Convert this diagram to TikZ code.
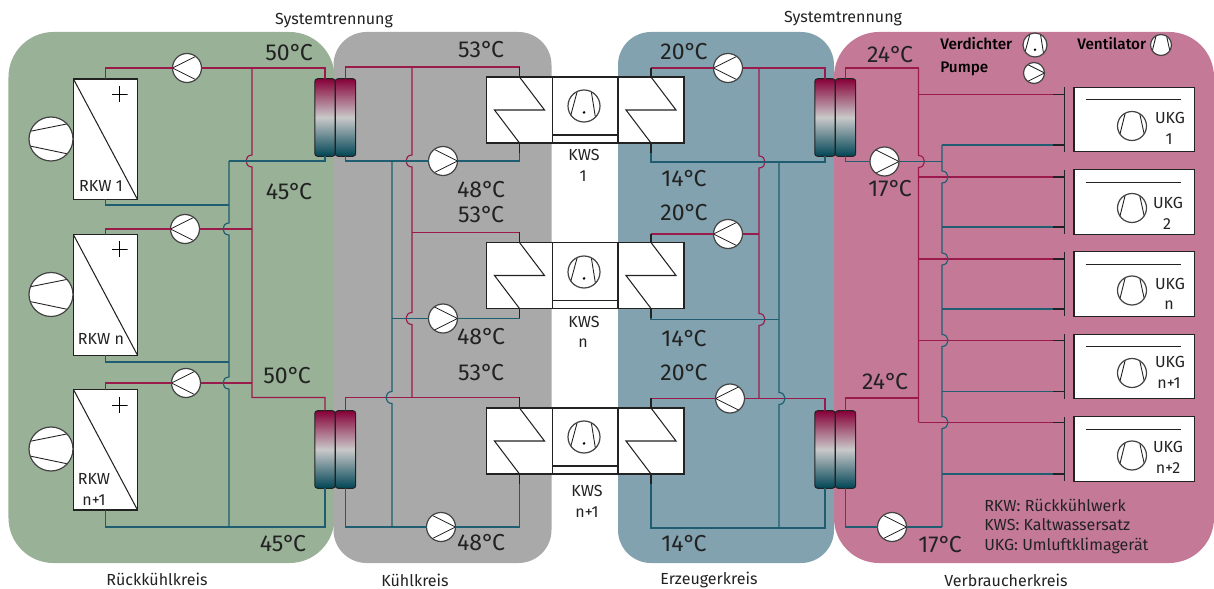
\documentclass[tikz,border=0pt]{standalone}
\usepackage{fontspec}
\setmainfont{Fira Sans}
\newfontface\medfont{Fira Sans Medium}
\usepackage{xcolor}
\usepackage{tikz}
\usetikzlibrary{calc}
\definecolor{zonegreen}{HTML}{98B197}
\definecolor{zonegray}{HTML}{A9A9A9}
\definecolor{zoneblue}{HTML}{81A2AE}
\definecolor{zonepink}{HTML}{C47A96}
\definecolor{pipehot}{HTML}{9A1B4B}
\definecolor{pipecold}{HTML}{1E5E70}
\definecolor{hxtop}{HTML}{860038}
\definecolor{hxmid}{HTML}{C9C9C9}
\definecolor{hxbot}{HTML}{004555}
\definecolor{inkdark}{HTML}{222222}
\tikzset{
  % --- circuit areas ---------------------------------------------------------
  zone/.style={rectangle,inner sep=0pt,outer sep=0pt,rounded corners=11.25mm},
  zonesmall/.style={zone,rounded corners=8.25mm},
  % --- pipes -----------------------------------------------------------------
  hot/.style={pipehot,line width=0.28mm},
  cold/.style={pipecold,line width=0.28mm},
  stub/.style={inkdark,line width=0.26mm},
  % --- units -----------------------------------------------------------------
  unit/.style={rectangle,draw=inkdark,fill=white,line width=0.28mm,inner sep=0pt,
               outer sep=0pt},
  rkw/.style={unit,minimum width=16mm,minimum height=30.1mm,
    path picture={\draw[stub] (path picture bounding box.north west) --
      (path picture bounding box.south east);}},
  kws/.style={unit,minimum width=16.5mm,minimum height=16.5mm},
  ukg/.style={unit,minimum width=30.1mm,minimum height=16.1mm},
  hx/.style={rectangle,draw=inkdark,line width=0.25mm,inner sep=0pt,outer sep=0pt,
             rounded corners=0.7mm,minimum width=5.1mm,minimum height=19.4mm,
             top color=hxtop,bottom color=hxbot,middle color=hxmid},
  plusmark/.style={rectangle,inner sep=0pt,minimum size=4mm,
    path picture={\draw[black,line width=0.2mm]
      (path picture bounding box.north) -- (path picture bounding box.south)
      (path picture bounding box.west) -- (path picture bounding box.east);}},
  % --- rotating machines -----------------------------------------------------
  round/.style={circle,draw=inkdark!85,fill=white,line width=0.3mm,inner sep=0pt,
                outer sep=0pt,minimum size=7.25mm},
  pumpl/.style={round,path picture={\draw[stub,line width=0.22mm]
      (path picture bounding box.west) -- (path picture bounding box.north east)
      (path picture bounding box.west) -- (path picture bounding box.south east);}},
  pumpr/.style={round,path picture={\draw[stub,line width=0.22mm]
      (path picture bounding box.east) -- (path picture bounding box.north west)
      (path picture bounding box.east) -- (path picture bounding box.south west);}},
  fanh/.style={round,minimum size=11mm,path picture={\draw[stub,line width=0.22mm]
      ($(path picture bounding box.north west)!0.33!(path picture bounding box.south west)$) --
      ($(path picture bounding box.north east)!0.13!(path picture bounding box.south east)$)
      ($(path picture bounding box.north west)!0.655!(path picture bounding box.south west)$) --
      ($(path picture bounding box.north east)!0.864!(path picture bounding box.south east)$);}},
  fanv/.style={round,path picture={\draw[stub,line width=0.22mm]
      ($(path picture bounding box.north west)!0.28!(path picture bounding box.north east)$) --
      ($(path picture bounding box.south west)!0.03!(path picture bounding box.south east)$)
      ($(path picture bounding box.north west)!0.75!(path picture bounding box.north east)$) --
      ($(path picture bounding box.south west)!0.97!(path picture bounding box.south east)$);}},
  comp/.style={round,minimum size=8mm,path picture={\draw[stub,line width=0.22mm]
      ($(path picture bounding box.north west)!0.3!(path picture bounding box.north east)$) --
      ($(path picture bounding box.south west)!0.03!(path picture bounding box.south east)$)
      ($(path picture bounding box.north west)!0.72!(path picture bounding box.north east)$) --
      ($(path picture bounding box.south west)!0.88!(path picture bounding box.south east)$);
      \fill[black] ($(path picture bounding box.center)!0.4!(path picture bounding box.south)$)
      circle[radius=0.35mm];}},
  % --- texts -----------------------------------------------------------------
  temp/.style={inner sep=0pt,text=inkdark,font=\fontsize{16.4}{18}\selectfont},
  lab/.style={inner sep=0pt,text=inkdark,font=\fontsize{11.4}{13}\selectfont},
  keylab/.style={lab,anchor=west},
  legendlab/.style={keylab,text=black,font=\medfont\fontsize{10.9}{13}\selectfont},
}
% pipe crossing: half loop to the left or right of a vertical run
\newcommand{\hopl}[1]{-- ($(#1)+(0,-6)$) .. controls ($(#1)+(-8,-6)$) and ($(#1)+(-8,6)$) .. ($(#1)+(0,6)$)}
\newcommand{\hopr}[1]{-- ($(#1)+(0,-6)$) .. controls ($(#1)+(8,-6)$) and ($(#1)+(8,6)$) .. ($(#1)+(0,6)$)}
\newcommand{\degC}{°\kern-0.09em C}
\begin{document}
\begin{tikzpicture}[x=0.25mm, y=-0.25mm]
  \useasboundingbox (0,0) rectangle (1214,589);

  % circuit areas
  \node[zone,fill=zonegreen,minimum width=81.5mm,minimum height=132.75mm] (zoneg) at (171.5,297.5) {};
  \node[zonesmall,fill=zonegray,minimum width=54.5mm,minimum height=132.75mm] (zonek) at (442.5,297.5) {};
  \node[zonesmall,fill=zoneblue,minimum width=54mm,minimum height=132.75mm] (zonee) at (726,297.5) {};
  \node[zone,fill=zonepink,minimum width=95mm,minimum height=132.75mm] (zonev) at (1024,297.5) {};

  % heat exchangers at the system separations
  \node[hx] (hxg1) at (325,117.5)   {}; \node[hx] (hxk1) at (345.5,117.5) {};
  \node[hx] (hxg2) at (325,449.5)   {}; \node[hx] (hxk2) at (345.5,449.5) {};
  \node[hx] (hxe1) at (825,117.5)   {}; \node[hx] (hxv1) at (845.5,117.5) {};
  \node[hx] (hxe2) at (825,449.5)   {}; \node[hx] (hxv2) at (845.5,449.5) {};

  % recooling units
  \node[rkw] (rkw1) at (105.5,139.25) {};
  \node[rkw] (rkw2) at (105.5,295)    {};
  \node[rkw] (rkw3) at (105.5,449.75) {};
  \node[plusmark] (plus1) at (119.5,94)  {};
  \node[plusmark] (plus2) at (119.5,249) {};
  \node[plusmark] (plus3) at (119.5,405) {};
  \node[fanh] (fang1) at (51,139)   {};
  \node[fanh] (fang2) at (51,294.5) {};
  \node[fanh] (fang3) at (51,449)   {};

  % chillers: condenser, compressor, evaporator
  \node[kws] (kwsl1) at (519.5,110)   {};
  \node[kws] (kwsm1) at (585.25,110)  {};
  \node[kws] (kwsr1) at (651,110)     {};
  \node[kws] (kwsl2) at (519.5,275.5) {};
  \node[kws] (kwsm2) at (585.25,275.5) {};
  \node[kws] (kwsr2) at (651,275.5)   {};
  \node[kws] (kwsl3) at (519.5,441)   {};
  \node[kws] (kwsm3) at (585.25,441)  {};
  \node[kws] (kwsr3) at (651,441)     {};
  \node[comp] (comp1) at (584,106) {};
  \node[comp] (comp2) at (584,272) {};
  \node[comp] (comp3) at (584,437) {};
  \draw[stub] (kwsm1.south west) ++(0,-8) -- ++(65.5,0);
  \draw[stub] (kwsm2.south west) ++(0,-8) -- ++(65.5,0);
  \draw[stub] (kwsm3.south west) ++(0,-8) -- ++(65.5,0);
  \draw[stub] (kwsl1.north) -- ++(25,33) -- ++(-50,0) -- (kwsl1.south);
  \draw[stub] (kwsr1.north) -- ++(25,33) -- ++(-50,0) -- (kwsr1.south);
  \draw[stub] (kwsl2.north) -- ++(25,33) -- ++(-50,0) -- (kwsl2.south);
  \draw[stub] (kwsr2.north) -- ++(25,33) -- ++(-50,0) -- (kwsr2.south);
  \draw[stub] (kwsl3.north) -- ++(25,33) -- ++(-50,0) -- (kwsl3.south);
  \draw[stub] (kwsr3.north) -- ++(25,33) -- ++(-50,0) -- (kwsr3.south);

  % air handling units
  \node[ukg] (ukg1) at (1134.25,119.5) {};
  \node[ukg] (ukg2) at (1134.25,202)   {};
  \node[ukg] (ukg3) at (1134.25,284)   {};
  \node[ukg] (ukg4) at (1134.25,366.5) {};
  \node[ukg] (ukg5) at (1134.25,449)   {};
  \node[fanv] (fanu1) at (1132,126)   {};
  \node[fanv] (fanu2) at (1132,208)   {};
  \node[fanv] (fanu3) at (1132,290.5) {};
  \node[fanv] (fanu4) at (1132,373)   {};
  \node[fanv] (fanu5) at (1132,455.5) {};
  \draw[stub] ($(ukg1.north west)+(11.5,12.5)$) -- ($(ukg1.north east)+(-13,12.5)$);
  \draw[stub] ($(ukg2.north west)+(11.5,12.5)$) -- ($(ukg2.north east)+(-13,12.5)$);
  \draw[stub] ($(ukg3.north west)+(11.5,12.5)$) -- ($(ukg3.north east)+(-13,12.5)$);
  \draw[stub] ($(ukg4.north west)+(11.5,12.5)$) -- ($(ukg4.north east)+(-13,12.5)$);
  \draw[stub] ($(ukg5.north west)+(11.5,12.5)$) -- ($(ukg5.north east)+(-13,12.5)$);

  % pumps
  \node[pumpl] (pg1) at (187,68)    {};
  \node[pumpl] (pg2) at (185,229)   {};
  \node[pumpl] (pg3) at (186,383)   {};
  \node[pumpr] (pk1) at (443,161)   {};
  \node[pumpr] (pk2) at (443,318.5) {};
  \node[pumpr] (pk3) at (441,527)   {};
  \node[pumpl] (pe1) at (728,68)    {};
  \node[pumpl] (pe2) at (728,234)   {};
  \node[pumpl] (pe3) at (730,398.5) {};
  \node[pumpr] (pv1) at (884.5,161.5) {};
  \node[pumpr] (pv2) at (892,527)   {};

  % junctions and crossings, recooling circuit
  \coordinate (jg1) at (252,68);
  \coordinate (hg1) at (252,161);
  \coordinate (jg2) at (252,229);
  \coordinate (jg3) at (252,383);
  \coordinate (jg4) at (252,397.5);
  \coordinate (tg1) at (229,161);
  \coordinate (tg2) at (229,205);
  \coordinate (hg2) at (229,229);
  \coordinate (tg3) at (229,362);
  \coordinate (hg3) at (229,383);
  \coordinate (tg4) at (229,527);

  \draw[hot] (rkw1.north) |- (pg1);
  \draw[hot] (pg1) -| (hxg1.north);
  \draw[hot] (jg1) \hopl{hg1} -- (jg4) -| (hxg2.north);
  \draw[hot] (rkw2.north) |- (pg2);
  \draw[hot] (pg2) -- (jg2);
  \draw[hot] (rkw3.north) |- (pg3);
  \draw[hot] (pg3) -- (jg3);
  \draw[cold] (hxg1.south) |- (tg1);
  \draw[cold] (tg1) \hopl{hg2} \hopl{hg3} -- (tg4);
  \draw[cold] (rkw1.south) |- (tg2);
  \draw[cold] (rkw2.south) |- (tg3);
  \draw[cold] (rkw3.south) |- (tg4) -| (hxg2.south);

  % junctions and crossings, cooling circuit
  \coordinate (kl1t) at (519.5,67);
  \coordinate (kl2t) at (519.5,232.5);
  \coordinate (kl3t) at (519.5,397.5);
  \coordinate (jk1) at (412,67);
  \coordinate (hk1) at (412,161);
  \coordinate (jk2) at (412,232.5);
  \coordinate (hk2) at (412,318.5);
  \coordinate (jk3) at (412,397.5);
  \coordinate (tk1) at (392,161);
  \coordinate (tk2) at (392,318.5);
  \coordinate (hk3) at (392,397.5);
  \coordinate (tk3) at (392,527);

  \draw[hot] (hxk1.north) |- (kl1t);
  \draw[hot] (jk1) \hopl{hk1} -- (jk2) \hopl{hk2} -- (jk3);
  \draw[hot] (jk2) -- (kl2t);
  \draw[hot] (hxk2.north) |- (kl3t);
  \draw[cold] (kwsl1.south) |- (pk1);
  \draw[cold] (pk1) -| (hxk1.south);
  \draw[cold] (tk1) \hopl{hk3} -- (tk3);
  \draw[cold] (kwsl2.south) |- (pk2);
  \draw[cold] (pk2) -- (tk2);
  \draw[cold] (kwsl3.south) |- (pk3);
  \draw[cold] (pk3) -| (hxk2.south);
  \draw[stub] (kl1t) -- (kwsl1.north);
  \draw[stub] (kl2t) -- (kwsl2.north);
  \draw[stub] (kl3t) -- (kwsl3.north);
  \draw[stub] (kwsl1.south) -- ++(0,10);
  \draw[stub] (kwsl2.south) -- ++(0,10);
  \draw[stub] (kwsl3.south) -- ++(0,10);

  % junctions and crossings, generator circuit
  \coordinate (ke1t) at (651,68);
  \coordinate (ke2t) at (651,234);
  \coordinate (ke3t) at (651,398.5);
  \coordinate (je1) at (759,68);
  \coordinate (he1) at (759,162);
  \coordinate (je2) at (759,234);
  \coordinate (he2) at (759,319.5);
  \coordinate (je3) at (759,398.5);
  \coordinate (te1) at (779,162);
  \coordinate (te2) at (779,319.5);
  \coordinate (he3) at (779,398.5);
  \coordinate (te3) at (779,528);

  \draw[hot] (ke1t) -- (pe1);
  \draw[hot] (pe1) -| (hxe1.north);
  \draw[hot] (je1) \hopr{he1} -- (je2) \hopr{he2} -- (je3);
  \draw[hot] (ke2t) -- (pe2);
  \draw[hot] (pe2) -- (je2);
  \draw[hot] (ke3t) -- (pe3);
  \draw[hot] (pe3) -| (hxe2.north);
  \draw[cold] (kwsr1.south) |- (te1) -| (hxe1.south);
  \draw[cold] (te1) \hopr{he3} -- (te3);
  \draw[cold] (kwsr2.south) |- (te2);
  \draw[cold] (kwsr3.south) |- (te3) -| (hxe2.south);
  \draw[stub] (ke1t) -- (kwsr1.north);
  \draw[stub] (ke2t) -- (kwsr2.north);
  \draw[stub] (ke3t) -- (kwsr3.north);
  \draw[stub] (kwsr1.south) -- ++(0,10);
  \draw[stub] (kwsr2.south) -- ++(0,10);
  \draw[stub] (kwsr3.south) -- ++(0,10);

  % junctions and crossings, consumer circuit
  \coordinate (ru1) at (1064,94.5);
  \coordinate (ru2) at (1064,177);
  \coordinate (ru3) at (1064,259);
  \coordinate (ru4) at (1064,340.5);
  \coordinate (ru5) at (1064,422.5);
  \coordinate (bu1) at (1064,145);
  \coordinate (bu2) at (1064,227);
  \coordinate (bu3) at (1064,309);
  \coordinate (bu4) at (1064,391.5);
  \coordinate (bu5) at (1064,474);
  \coordinate (jv1) at (918.5,68);
  \coordinate (hv1) at (918.5,161.5);
  \coordinate (jv2) at (918.5,398);
  \coordinate (jv3) at (918.5,422.5);
  \coordinate (tv1) at (942,145);
  \coordinate (tv2) at (942,161.5);
  \coordinate (hv2) at (942,177);
  \coordinate (hv3) at (942,259);
  \coordinate (hv4) at (942,340.5);
  \coordinate (hv5) at (942,422.5);
  \coordinate (tv3) at (942,527);

  \draw[hot] (hxv1.north) |- (jv1);
  \draw[hot] (jv1) \hopr{hv1} -- (jv3);
  \draw[hot] (hxv2.north) |- (jv2);
  \draw[hot] (jv1 |- ru1) -- (ru1);
  \draw[hot] (jv1 |- ru2) -- (ru2);
  \draw[hot] (jv1 |- ru3) -- (ru3);
  \draw[hot] (jv1 |- ru4) -- (ru4);
  \draw[hot] (jv1 |- ru5) -- (ru5);
  \draw[cold] (hxv1.south) |- (pv1);
  \draw[cold] (pv1) -- (tv2);
  \draw[cold] (tv1) \hopr{hv2} \hopr{hv3} \hopr{hv4} \hopr{hv5} -- (tv3);
  \draw[cold] (hxv2.south) |- (pv2);
  \draw[cold] (pv2) -- (tv3);
  \draw[cold] (tv1) -- (bu1);
  \draw[cold] (tv1 |- bu2) -- (bu2);
  \draw[cold] (tv1 |- bu3) -- (bu3);
  \draw[cold] (tv1 |- bu4) -- (bu4);
  \draw[cold] (tv1 |- bu5) -- (bu5);

  % black ends and bars in front of the air handling units
  \draw[stub] (ru1) -- ++(-11,0); \draw[stub] (bu1) -- ++(-11,0);
  \draw[stub] (ru2) -- ++(-11,0); \draw[stub] (bu2) -- ++(-11,0);
  \draw[stub] (ru3) -- ++(-11,0); \draw[stub] (bu3) -- ++(-11,0);
  \draw[stub] (ru4) -- ++(-11,0); \draw[stub] (bu4) -- ++(-11,0);
  \draw[stub] (ru5) -- ++(-11,0); \draw[stub] (bu5) -- ++(-11,0);
  \draw[stub] ($(ukg1.north west)+(-10,0)$) -- ($(ukg1.south west)+(-10,0)$);
  \draw[stub] ($(ukg2.north west)+(-10,0)$) -- ($(ukg2.south west)+(-10,0)$);
  \draw[stub] ($(ukg3.north west)+(-10,0)$) -- ($(ukg3.south west)+(-10,0)$);
  \draw[stub] ($(ukg4.north west)+(-10,0)$) -- ($(ukg4.south west)+(-10,0)$);
  \draw[stub] ($(ukg5.north west)+(-10,0)$) -- ($(ukg5.south west)+(-10,0)$);

  % unit labels
  \node[lab] (rkwlab1) at (101,186) {RKW 1};
  \node[lab] (rkwlab2) at (101,339) {RKW n};
  \node[lab] (rkwlab3) at (94,479)  {RKW};
  \node[lab] (rkwlab4) at (94,500)  {n+1};
  \node[lab] (kwslab1) at (584,155) {KWS};
  \node[lab] (kwslab2) at (583,176) {1};
  \node[lab] (kwslab3) at (584,322) {KWS};
  \node[lab] (kwslab4) at (583,343) {n};
  \node[lab] (kwslab5) at (587,491) {KWS};
  \node[lab] (kwslab6) at (587,512) {n+1};
  \node[lab] (ukglab1) at (1170,118) {UKG};
  \node[lab] (ukglab2) at (1169,139) {1};
  \node[lab] (ukglab3) at (1168,203) {UKG};
  \node[lab] (ukglab4) at (1167,224) {2};
  \node[lab] (ukglab5) at (1170,284) {UKG};
  \node[lab] (ukglab6) at (1169,305) {n};
  \node[lab] (ukglab7) at (1170,362) {UKG};
  \node[lab] (ukglab8) at (1169,383) {n+1};
  \node[lab] (ukglab9) at (1168,447) {UKG};
  \node[lab] (ukglab10) at (1168,468) {n+2};

  % temperatures
  \node[temp] (tempg1) at (289,53)  {50\degC};
  \node[temp] (tempg2) at (289,192) {45\degC};
  \node[temp] (tempg3) at (287,376) {50\degC};
  \node[temp] (tempg4) at (283,544) {45\degC};
  \node[temp] (tempk1) at (481,50)  {53\degC};
  \node[temp] (tempk2) at (481,190) {48\degC};
  \node[temp] (tempk3) at (481,215) {53\degC};
  \node[temp] (tempk4) at (481,337) {48\degC};
  \node[temp] (tempk5) at (481,373) {53\degC};
  \node[temp] (tempk6) at (481,543) {48\degC};
  \node[temp] (tempe1) at (684,52)  {20\degC};
  \node[temp] (tempe2) at (684,179) {14\degC};
  \node[temp] (tempe3) at (684,213) {20\degC};
  \node[temp] (tempe4) at (684,339) {14\degC};
  \node[temp] (tempe5) at (684,373) {20\degC};
  \node[temp] (tempe6) at (684,544) {14\degC};
  \node[temp] (tempv1) at (890,55)  {24\degC};
  \node[temp] (tempv2) at (890,189) {17\degC};
  \node[temp] (tempv3) at (885,382) {24\degC};
  \node[temp] (tempv4) at (940,545) {17\degC};

  % captions
  \node[lab] (sepl) at (334,21)  {Systemtrennung};
  \node[lab] (sepr) at (843,19)  {Systemtrennung};
  \node[lab] (capg) at (157,579) {Rückkühlkreis};
  \node[lab] (capk) at (415,580.5) {Kühlkreis};
  \node[lab] (cape) at (709,579.5) {Erzeugerkreis};
  \node[lab] (capv) at (1006,580.5) {Verbraucherkreis};

  % legend
  \node[legendlab] (legv) at (940,44)  {Verdichter};
  \node[legendlab] (legp) at (940,69)  {Pumpe};
  \node[legendlab] (legf) at (1077,44) {Ventilator};
  \node[comp,minimum size=6mm] (legcomp) at (1035,45) {};
  \node[pumpr,minimum size=5.25mm] (legpump) at (1034,73)  {};
  \node[fanv,minimum size=5.25mm] (legfan) at (1161,45) {};
  \node[keylab] (key1) at (984,505) {RKW: Rückkühlwerk};
  \node[keylab] (key2) at (984,525) {KWS: Kaltwassersatz};
  \node[keylab] (key3) at (984,546) {UKG: Umluftklimagerät};
\end{tikzpicture}
\end{document}
